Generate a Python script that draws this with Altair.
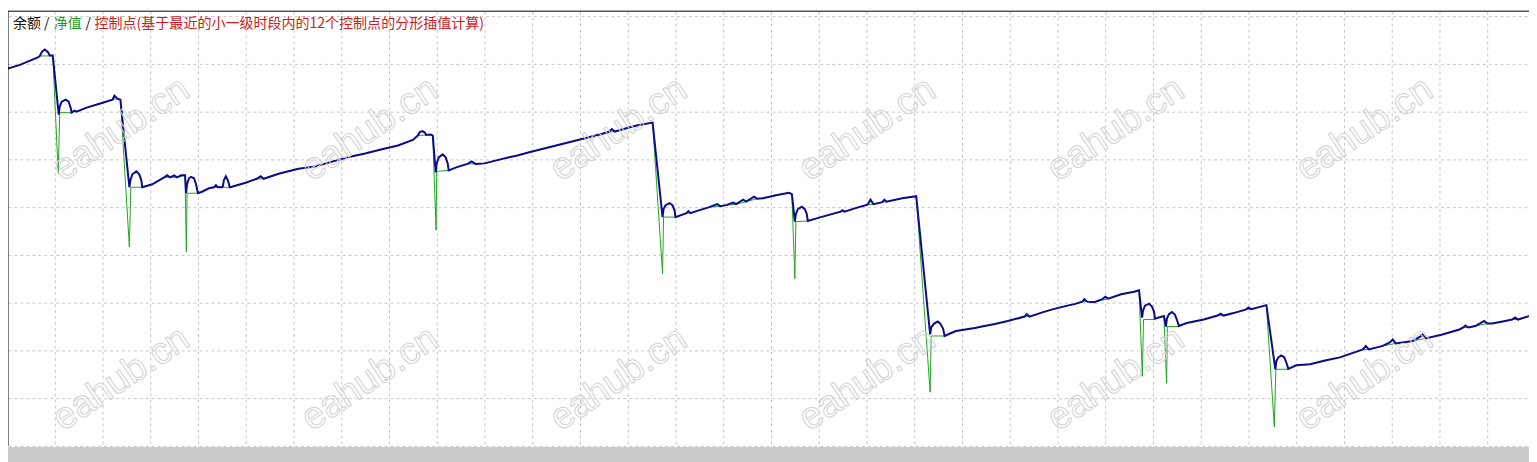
import altair as alt
import pandas as pd

# Balance curve (blue): (trade index, balance)
balance_pts = [
    (0, 8790), (13, 8830), (25, 8880), (31, 8905), (33, 8920), (35, 8960), (38, 8985), (41, 8960), (43, 8925), (46, 8925),
    (52, 8330), (53, 8410), (55, 8460), (59, 8480), (62, 8460), (64, 8400), (65, 8350), (68, 8370), (70, 8360), (80, 8400),
    (93, 8440), (106, 8480), (108, 8520), (111, 8490), (114, 8480),
    (123, 7600), (124, 7670), (126, 7730), (130, 7760), (133, 7730), (135, 7670), (136, 7600), (146, 7630), (158, 7700),
    (161, 7720), (164, 7700), (168, 7720), (171, 7700), (175, 7720), (179, 7720),
    (180, 7540), (181, 7630), (183, 7690), (185, 7705), (188, 7690), (190, 7630), (192, 7540), (196, 7555), (203, 7590),
    (208, 7600), (210, 7620), (212, 7600), (216, 7600), (217, 7610), (218, 7670), (220, 7710), (222, 7670), (224, 7600),
    (226, 7605), (240, 7645), (251, 7685), (255, 7710), (258, 7685), (273, 7735), (293, 7785), (310, 7810), (326, 7855),
    (346, 7910), (360, 7940), (380, 7990), (393, 8020), (408, 8075), (413, 8120), (415, 8155), (417.5, 8165), (420, 8150),
    (421.5, 8125), (426, 8130), (428, 8120),
    (431, 7750), (432, 7840), (434, 7900), (438, 7930), (441, 7900), (443, 7840), (444, 7770), (453, 7805), (463, 7835),
    (467, 7860), (471, 7835), (480, 7840), (500, 7890), (513, 7920), (526, 7955), (546, 8005), (566, 8055), (586, 8105),
    (605, 8155), (608, 8185), (611, 8160), (620, 8185), (633, 8220), (649, 8250),
    (659, 7300), (660, 7380), (662, 7420), (666, 7440), (669, 7420), (671, 7370), (672, 7300), (683, 7340), (685, 7360),
    (687, 7340), (693, 7360), (706, 7400), (714, 7430), (717, 7410), (723, 7420), (730, 7445), (733, 7430), (740, 7475),
    (743, 7455), (751, 7505), (754, 7485), (760, 7490), (773, 7520), (786, 7545), (789, 7530),
    (792, 7255), (793, 7330), (795, 7380), (799, 7405), (802, 7380), (804, 7330), (805, 7260), (813, 7285), (820, 7305),
    (838, 7355), (840, 7370), (842, 7355), (853, 7390), (865, 7425), (868, 7475), (871, 7430), (880, 7450), (882, 7475),
    (884, 7455), (900, 7490), (914, 7510),
    (928, 6120), (929, 6190), (932, 6230), (935.5, 6250), (938, 6230), (941, 6180), (942.5, 6105), (948, 6130), (954, 6155),
    (973, 6185), (980, 6200), (993, 6225), (1006, 6255), (1023, 6300), (1025, 6325), (1028, 6300), (1040, 6340),
    (1050, 6370), (1056, 6385), (1066, 6410), (1073, 6425), (1081, 6450), (1083, 6475), (1086, 6450), (1093, 6445),
    (1101, 6475), (1104, 6500), (1107, 6480), (1120, 6525), (1133, 6550), (1138, 6565),
    (1141, 6290), (1142, 6360), (1144, 6410), (1148, 6430), (1151, 6400), (1153, 6350), (1154, 6280), (1156, 6285), (1163, 6305),
    (1165, 6200), (1166, 6280), (1168, 6325), (1171, 6345), (1174, 6320), (1176, 6270), (1178, 6205), (1186, 6235),
    (1203, 6270), (1217, 6310), (1220, 6330), (1223, 6310), (1233, 6335), (1245, 6370), (1248, 6390), (1251, 6375), (1266, 6415),
    (1275, 5770), (1276, 5850), (1278, 5890), (1281, 5910), (1284, 5890), (1286, 5840), (1288, 5775), (1296, 5810),
    (1310, 5820), (1326, 5860), (1340, 5890), (1356, 5945), (1363, 5970), (1366, 6005), (1369, 5970), (1383, 6005),
    (1390, 6040), (1393, 6070), (1396, 6030), (1413, 6055), (1421, 6100), (1423, 6120), (1426, 6080), (1443, 6120),
    (1460, 6170), (1464, 6190), (1466, 6210), (1469, 6190), (1476, 6205), (1482, 6240), (1485, 6255), (1488, 6230),
    (1493, 6230), (1506, 6255), (1513, 6270), (1516, 6290), (1519, 6270), (1530, 6305),
]

# Equity curve (green): (trade index, equity)
equity_pts = [
    (0, 8790), (13, 8830), (25, 8880), (31, 8905), (33, 8920), (43, 8920), (46, 8925), (51.5, 7740), (53, 8350),
    (65, 8350), (68, 8370), (70, 8360), (80, 8400), (93, 8440), (106, 8480), (111, 8490), (114, 8480), (123, 7000), (124.5, 7600),
    (136, 7600), (146, 7630), (158, 7700), (164, 7700), (171, 7700), (179, 7720), (180.3, 6950), (181, 7540),
    (192, 7540), (196, 7555), (203, 7590), (208, 7600), (224, 7600), (226, 7605), (240, 7645), (251, 7685), (258, 7685),
    (273, 7735), (293, 7785), (310, 7810), (326, 7855), (346, 7910), (360, 7940), (380, 7990), (393, 8020), (408, 8075),
    (413, 8120), (421.5, 8125), (426, 8130), (428, 8120), (431.3, 7170), (432, 7760),
    (444, 7770), (453, 7805), (463, 7835), (471, 7835), (480, 7840), (500, 7890), (513, 7920), (526, 7955), (546, 8005),
    (566, 8055), (586, 8105), (605, 8155), (611, 8160), (620, 8185), (633, 8220), (649, 8250), (659, 6730), (660, 7300),
    (672, 7300), (683, 7340), (687, 7340), (693, 7360), (706, 7400), (717, 7410), (723, 7420), (733, 7430), (743, 7455),
    (754, 7485), (760, 7490), (773, 7520), (786, 7545), (789, 7530), (792, 6680), (793, 7255),
    (805, 7260), (813, 7285), (820, 7305), (838, 7355), (842, 7355), (853, 7390), (865, 7425), (871, 7430), (880, 7450),
    (884, 7455), (900, 7490), (914, 7510), (928, 5540), (929, 6105),
    (942.5, 6105), (948, 6130), (954, 6155), (973, 6185), (980, 6200), (993, 6225), (1006, 6255), (1023, 6300), (1028, 6300),
    (1040, 6340), (1050, 6370), (1056, 6385), (1066, 6410), (1073, 6425), (1081, 6450), (1086, 6450), (1093, 6445),
    (1107, 6480), (1120, 6525), (1133, 6550), (1138, 6565), (1141.3, 5700), (1142.5, 6270),
    (1154, 6270), (1156, 6285), (1163, 6305), (1165.7, 5630), (1166.5, 6200),
    (1178, 6200), (1186, 6235), (1203, 6270), (1217, 6310), (1223, 6310), (1233, 6335), (1245, 6370), (1251, 6375),
    (1266, 6415), (1274, 5190), (1275.5, 5770),
    (1288, 5770), (1296, 5810), (1310, 5820), (1326, 5860), (1340, 5890), (1356, 5945), (1363, 5970), (1369, 5970),
    (1383, 6005), (1396, 6030), (1413, 6055), (1426, 6080), (1443, 6120), (1460, 6170), (1464, 6190), (1469, 6190),
    (1476, 6205), (1488, 6230), (1493, 6230), (1506, 6255), (1513, 6270), (1519, 6270), (1530, 6305),
]

grid_x = [48, 96, 144, 192, 240, 288, 336, 384, 432, 480, 528, 576, 624, 672, 720, 768, 816, 864, 912, 960,
          1008, 1056, 1104, 1152, 1200, 1248, 1296, 1344, 1392, 1440, 1488]
grid_y = [5000, 5480, 5960, 6440, 6920, 7400, 7880, 8360, 8840, 9320]
x_domain = [1, 1530]
y_domain = [5000, 9370]

W, H = 1529, 437

bal_df = pd.DataFrame({"i": range(len(balance_pts)),
                       "x": [p[0] for p in balance_pts],
                       "y": [p[1] for p in balance_pts]})
eq_df = pd.DataFrame({"i": range(len(equity_pts)),
                      "x": [p[0] for p in equity_pts],
                      "y": [p[1] for p in equity_pts]})

grid_axis = dict(grid=True, labels=False, ticks=False, domain=False, title=None,
                 gridDash=[3, 3], gridColor="#c6c6c6", gridWidth=1)
X = alt.X("x:Q", scale=alt.Scale(domain=x_domain, nice=False, zero=False),
          axis=alt.Axis(values=grid_x, **grid_axis))
Y = alt.Y("y:Q", scale=alt.Scale(domain=y_domain, nice=False, zero=False),
          axis=alt.Axis(values=grid_y, **grid_axis))

equity = alt.Chart(eq_df).mark_line(color="#22a322", strokeWidth=1, clip=True).encode(x=X, y=Y, order="i:Q")
balance = alt.Chart(bal_df).mark_line(color="#0c0c8a", strokeWidth=2, clip=True).encode(x=X, y=Y, order="i:Q")

one = alt.InlineData(values=[{"a": 1}])

# watermarks
wm_layers = []
for cx in [114, 364, 614, 864, 1114, 1364]:
    for cy in [119, 370]:
        wm_layers.append(
            alt.Chart(one).mark_text(text="eahub.cn", angle=326, fontSize=38, font="Liberation Sans",
                                     stroke="#d2d2d2", strokeWidth=1, fillOpacity=0, align="center",
                                     baseline="middle").encode(x=alt.value(cx), y=alt.value(cy))
        )

title_font = "Noto Sans CJK SC"
t1 = alt.Chart(one).mark_text(text="余额 /", fontSize=14, font=title_font, color="#101010",
                              align="left", baseline="middle").encode(x=alt.value(5), y=alt.value(12.5))
t2 = alt.Chart(one).mark_text(text="净值", fontSize=14, font=title_font, color="#1f9a1f",
                              align="left", baseline="middle").encode(x=alt.value(46), y=alt.value(12.5))
t3 = alt.Chart(one).mark_text(text="/", fontSize=14, font=title_font, color="#101010",
                              align="left", baseline="middle").encode(x=alt.value(78), y=alt.value(12.5))
t4 = alt.Chart(one).mark_text(text="控制点(基于最近的小一级时段内的12个控制点的分形插值计算)", fontSize=14.1,
                              font=title_font, color="#cc2020",
                              align="left", baseline="middle").encode(x=alt.value(87), y=alt.value(12.5))

top_border = alt.Chart(one).mark_rule(color="#000000", strokeWidth=1).encode(
    x=alt.value(0), x2=alt.value(W), y=alt.value(0))
left_border = alt.Chart(one).mark_rule(color="#000000", strokeWidth=1).encode(
    x=alt.value(0), y=alt.value(0), y2=alt.value(H))
bottom_bar = alt.Chart(one).mark_rect(color="#cbcbcb").encode(
    x=alt.value(0), x2=alt.value(W), y=alt.value(H + 1), y2=alt.value(H + 20))

chart = alt.layer(
    equity, balance, *wm_layers, t1, t2, t3, t4, top_border, left_border, bottom_bar
).properties(
    width=W, height=H,
    autosize=alt.AutoSizeParams(type="none"),
    padding={"left": 0, "top": 2, "right": 0, "bottom": 15},
    background="white",
).configure_view(stroke=None)

chart.save("out.html", embed_options={"renderer": "svg", "actions": False})
